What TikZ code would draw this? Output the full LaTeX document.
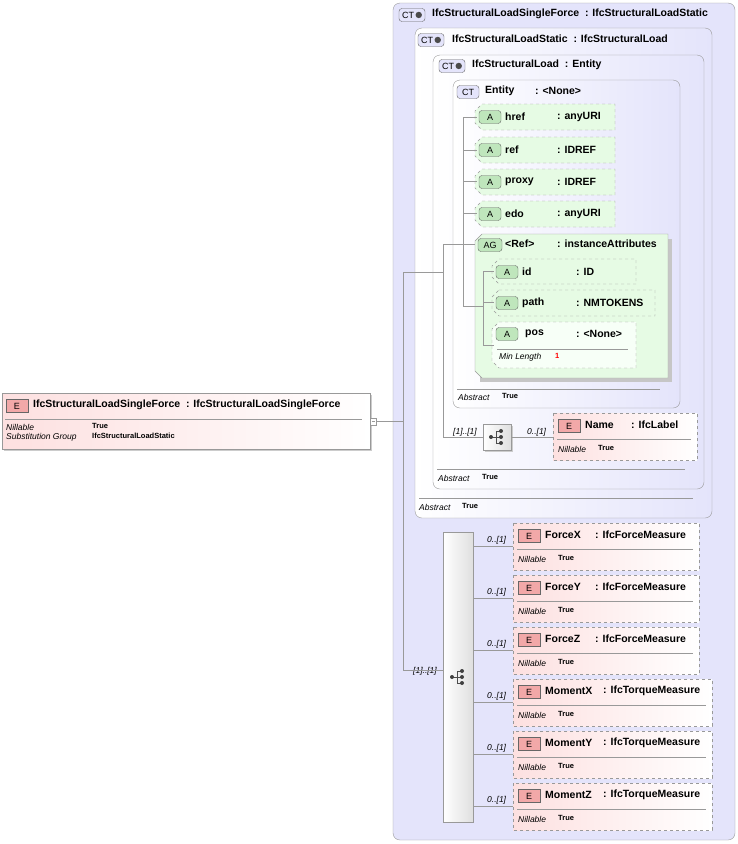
\documentclass[tikz,border=0pt]{standalone}
\usepackage{fontspec}
\setmainfont{Liberation Sans}
\begin{document}
\definecolor{lav}{HTML}{E4E4FB}
\definecolor{lavd}{HTML}{8888BB}
\definecolor{grn}{HTML}{E6FBE4}
\definecolor{grnb}{HTML}{BFE6BC}
\definecolor{pnk}{HTML}{FDE0E0}
\definecolor{pnkb}{HTML}{F2A8A8}
\definecolor{ln}{HTML}{999999}
\tikzset{
 ct/.style={draw=ln, rounded corners=7pt, fill=lav},
 ctin/.style={draw=ln, rounded corners=7pt, left color=white, right color=lav},
 hd/.style={font=\bfseries\fontsize{10.5}{12}\selectfont, anchor=west, inner sep=0},
 sm/.style={font=\itshape\fontsize{8.5}{9}\selectfont, anchor=west, inner sep=0},
 smb/.style={font=\bfseries\fontsize{7.5}{9}\selectfont, anchor=west, inner sep=0},
 con/.style={draw=ln, line width=0.6pt},
 badge/.style={draw=gray!80!black, rounded corners=3pt, inner sep=1pt, minimum height=13pt, font=\fontsize{9}{10}\selectfont},
 seq/.style={draw=ln, fill=gray!15, left color=white, right color=gray!25},
}
\newcommand\ctbadge[3]{\node[badge, fill=lav, minimum width=26pt] (#3) at (#1,#2) {CT\,\tikz\fill[gray!60!black](0,0)circle(3.2pt);};}
\newcommand\seqicon[2]{%
 \draw[black!70,line width=0.8pt] (#1-5,#2)--(#1,#2) (#1,#2-6)--(#1,#2+6) (#1,#2-6)--(#1+4,#2-6) (#1,#2+6)--(#1+4,#2+6) (#1,#2)--(#1+4,#2);
 \fill[black!75] (#1-5,#2) circle [radius=2] (#1+5,#2-6) circle [radius=2] (#1+5,#2) circle [radius=2] (#1+5,#2+6) circle [radius=2];}
% attr: x1 y1 x2 y2 name type colonx nodename
\newcommand\attr[8]{%
 \draw[ln, dashed, fill=grn] (#1+7,#2)--(#3,#2)--(#3,#4)--(#1+7,#4)--(#1,#4-7)--(#1,#2+7)--cycle;
 \node[badge, fill=grnb, minimum width=22pt] (#8) at (#1+15,{(#2+#2+26)/2}) {A};
 \node[hd] at (#1+30,{(#2+#2+26)/2}) {#5};
 \node[hd] at (#7,{(#2+#2+26)/2}) {: #6};}
% elem: x1 y1 x2 y2 name type colonx nodename
\newcommand\elem[8]{%
 \draw[ln, dashed, left color=pnk, right color=white] (#1,#2) rectangle (#3,#4);
 \node[badge, rounded corners=0pt, fill=pnkb, minimum width=22pt] (#8) at (#1+16,#2+13) {E};
 \node[hd] at (#1+32,#2+12) {#5};
 \node[hd] at (#7,#2+12) {: #6};
 \draw[ln] (#1+4,#2+26)--(#3-6,#2+26);
 \node[sm] at (#1+5,#2+36) {Nillable};
 \node[smb] at (#1+45,#2+35) {True};}
\begin{tikzpicture}[x=1pt,y=-1pt]
\useasboundingbox (0,0) rectangle (738,844);
% outer complex types
\draw[ct] (393,3) rectangle (735,840);
\ctbadge{412}{15}{b1}\node[hd] at (432,14) {IfcStructuralLoadSingleForce\ \ : IfcStructuralLoadStatic};
\draw[ctin] (415,28) rectangle (712,518);
\ctbadge{431}{40}{b2}\node[hd] at (452,39) {IfcStructuralLoadStatic\ \ : IfcStructuralLoad};
\draw[ln] (419,498)--(693,498);
\node[sm] at (419,507) {Abstract};\node[smb] at (462,506) {True};
\draw[ctin] (433,55) rectangle (704,489);
\ctbadge{452}{66}{b3}\node[hd] at (472,65) {IfcStructuralLoad\ \ : Entity};
\draw[ln] (437,469)--(685,469);
\node[sm] at (438,478) {Abstract};\node[smb] at (482,477) {True};
\draw[ctin] (453,80) rectangle (680,408);
\node[badge, fill=lav, minimum width=22pt] (b4) at (468,92) {CT};
\node[hd] at (485,91) {Entity};\node[hd] at (535,91) {: <None>};
\draw[ln] (457,389)--(660,389);
\node[sm] at (458,397) {Abstract};\node[smb] at (502,396) {True};
% attributes
\attr{475}{104}{615}{130}{href}{anyURI}{557}{a1}
\attr{475}{137}{615}{163}{ref}{IDREF}{557}{a2}
\attr{475}{169}{615}{195}{proxy}{IDREF}{557}{a3}
\attr{475}{201}{615}{227}{edo}{anyURI}{557}{a4}
% attribute group
\fill[gray!45] (480,239) rectangle (672,382);
\draw[ln, fill=grn] (482,234)--(668,234)--(668,378)--(482,378)--(475,371)--(475,241)--cycle;
\node[badge, fill=grnb, minimum width=24pt] (ag) at (490,245) {AG};
\node[hd] at (505,244) {<Ref>};\node[hd] at (557,244) {: instanceAttributes};
\attr{492}{259}{636}{284}{id}{ID}{576}{a5}
\attr{492}{290}{655}{316}{path}{NMTOKENS}{576}{a6}
\draw[ln, dashed, fill=green!3] (499,322)--(636,322)--(636,368)--(499,368)--(492,361)--(492,329)--cycle;
\node[badge, fill=grnb, minimum width=22pt] (a7) at (507,334) {A};
\node[hd] at (525,334) {pos};\node[hd] at (576,334) {: <None>};
\draw[ln] (497,349)--(628,349);
\node[sm] at (499,357) {Min Length};\node[smb, text=red] at (555,356) {1};
% Name sequence
\fill[gray!40] (485,426) rectangle (513,452);
\draw[seq] (483,424) rectangle (511,450);
\coordinate (s1) at (483,437);\coordinate (s1r) at (511,437);
\seqicon{496}{437}
\node[sm] at (453,432) {[1]..[1]};\node[sm] at (527,432) {0..[1]};
\elem{553}{413}{697}{460}{Name}{IfcLabel}{631}{e0}
% big sequence
\draw[seq] (443,532) rectangle (473,822);
\seqicon{457}{677}
\node[sm] at (413,671) {[1]..[1]};
\elem{513}{523}{699}{570}{ForceX}{IfcForceMeasure}{595}{e1}
\elem{513}{575}{699}{622}{ForceY}{IfcForceMeasure}{595}{e2}
\elem{513}{627}{699}{674}{ForceZ}{IfcForceMeasure}{595}{e3}
\elem{513}{679}{712}{726}{MomentX}{IfcTorqueMeasure}{603}{e4}
\elem{513}{731}{712}{778}{MomentY}{IfcTorqueMeasure}{603}{e5}
\elem{513}{783}{712}{830}{MomentZ}{IfcTorqueMeasure}{603}{e6}
\foreach \y in {546,598,650,702,754,806}{
 \draw[con] (473,\y)--(513,\y);
 \node[sm] at (487,{\y-6}) {0..[1]};}
% left element
\fill[gray!40] (4,395) rectangle (372,451);
\draw[ln, left color=pnk, right color=white] (2,393) rectangle (370,449);
\node[badge, rounded corners=0pt, fill=pnkb, minimum width=22pt] (e) at (17,406) {E};
\node[hd] at (33,405) {IfcStructuralLoadSingleForce\ \ : IfcStructuralLoadSingleForce};
\draw[ln] (5,419)--(362,419);
\node[sm] at (6,427) {Nillable};\node[smb] at (92,426) {True};
\node[sm] at (6,437) {Substitution Group};\node[smb] at (92,436) {IfcStructuralLoadStatic};
\draw[ln, fill=white] (370,418) rectangle (376,425);
\draw[ln] (371.5,421.5)--(374.5,421.5);
% connectors
\draw[con] (376,421.5)--(403,421.5);
\draw[con] (403,272)--(403,670)--(443,670);
\draw[con] (403,272)--(443,272);
\draw[con] (443,244)--(443,437)--(s1);
\draw[con] (443,244)--(463,244);
\draw[con] (463,117)--(463,306)--(483,306);
\foreach \y in {117,150,181,213}{\draw[con] (463,\y)--(477,\y);}
\draw[con] (463,244)--(475,244);
\draw[con] (483,271)--(483,345)--(494,345);
\draw[con] (483,271)--(494,271);
\draw[con] (483,302)--(494,302);
\draw[con] (s1r)--(553,437);
\end{tikzpicture}
\end{document}
